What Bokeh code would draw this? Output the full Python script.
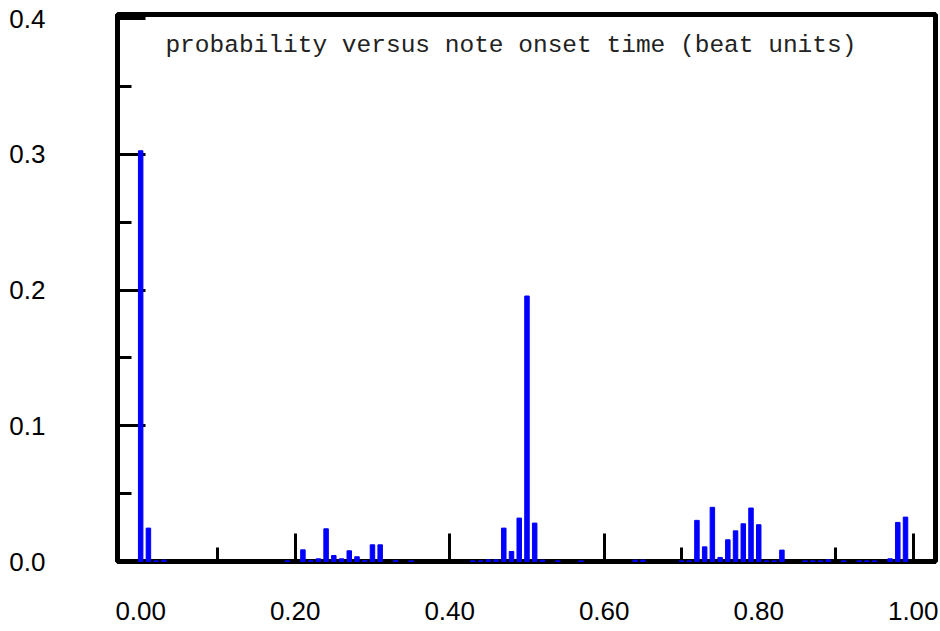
from bokeh.plotting import figure
from bokeh.models import Range1d, FixedTicker, Label
from bokeh.embed import file_html
from bokeh.resources import INLINE

# onset time (beat units) and probability
onsets = [0.00, 0.01, 0.02, 0.03, 0.19, 0.21, 0.22, 0.23, 0.24, 0.25,
          0.26, 0.27, 0.28, 0.29, 0.30, 0.31, 0.33, 0.35, 0.43, 0.44,
          0.45, 0.46, 0.47, 0.48, 0.49, 0.50, 0.51, 0.52, 0.54, 0.57,
          0.64, 0.65, 0.70, 0.71, 0.72, 0.73, 0.74, 0.75, 0.76, 0.77,
          0.78, 0.79, 0.80, 0.81, 0.82, 0.83, 0.86, 0.87, 0.88, 0.89,
          0.91, 0.93, 0.94, 0.95, 0.97, 0.98, 0.99]
probs = [0.3026, 0.0246, 0.0005, 0.0010, 0.0005, 0.0086, 0.0008, 0.0020, 0.0241, 0.0044,
         0.0020, 0.0079, 0.0035, 0.0007, 0.0123, 0.0123, 0.0008, 0.0005, 0.0005, 0.0005,
         0.0012, 0.0012, 0.0246, 0.0074, 0.0320, 0.1956, 0.0283, 0.0010, 0.0005, 0.0005,
         0.0010, 0.0010, 0.0005, 0.0005, 0.0303, 0.0108, 0.0399, 0.0030, 0.0160, 0.0226,
         0.0278, 0.0394, 0.0271, 0.0005, 0.0005, 0.0084, 0.0005, 0.0005, 0.0005, 0.0012,
         0.0005, 0.0005, 0.0005, 0.0005, 0.0020, 0.0288, 0.0327]

x_major = [0.0, 0.2, 0.4, 0.6, 0.8, 1.0]
x_minor = [0.1, 0.3, 0.5, 0.7, 0.9]
x_labels = ["0.00", "0.20", "0.40", "0.60", "0.80", "1.00"]
y_major = [0.0, 0.1, 0.2, 0.3, 0.4]
y_minor = [0.05, 0.15, 0.25, 0.35]
y_labels = ["0.0", "0.1", "0.2", "0.3", "0.4"]
title_text = "probability versus note onset time (beat units)"

p = figure(width=940, height=631, output_backend="svg",
           toolbar_location=None,
           x_range=Range1d(-0.030, 1.0288), y_range=Range1d(0.0, 0.403),
           min_border_left=117, min_border_top=14, min_border_right=5,
           min_border_bottom=70)
p.background_fill_color = "white"
p.border_fill_color = "white"
p.xgrid.visible = False
p.ygrid.visible = False
p.outline_line_color = "black"
p.outline_line_width = 5

r = p.vbar(x=onsets, top=probs, bottom=0, width=0.0058,
           fill_color="#0000ff", line_color="#0000ff", line_width=1)
r.level = "overlay"

xa = p.xaxis[0]
xa.ticker = FixedTicker(ticks=x_major, minor_ticks=x_minor)
xa.major_label_overrides = {t: l for t, l in zip(x_major, x_labels)}
ya = p.yaxis[0]
ya.ticker = FixedTicker(ticks=y_major, minor_ticks=y_minor)
ya.major_label_overrides = {t: l for t, l in zip(y_major, y_labels)}

for ax in (xa, ya):
    ax.axis_line_color = "black"
    ax.axis_line_width = 5
    ax.major_tick_line_color = "black"
    ax.minor_tick_line_color = "black"
    ax.major_tick_line_width = 3
    ax.minor_tick_line_width = 3
    ax.major_tick_in = 28
    ax.major_tick_out = 0
    ax.minor_tick_in = 14
    ax.minor_tick_out = 0
    ax.major_label_text_font = "Liberation Sans"
    ax.major_label_text_font_size = "26px"
    ax.major_label_text_color = "black"
xa.major_label_standoff = 40
ya.major_label_standoff = 72

title = Label(x=0.032, y=0.380, text=title_text, text_font="Liberation Mono",
              text_font_size="24.5px", text_color="#222222",
              text_baseline="middle", text_align="left")
p.add_layout(title)

open("out.html", "w").write(file_html(p, INLINE))
